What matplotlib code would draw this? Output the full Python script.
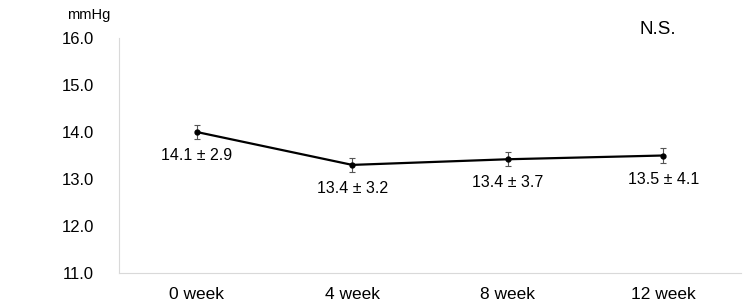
import matplotlib
matplotlib.use("Agg")
import matplotlib.pyplot as plt

plt.rcParams['font.family'] = ['Liberation Sans', 'DejaVu Sans']

categories = ["0 week", "4 week", "8 week", "12 week"]
means = [14.0, 13.3, 13.42, 13.5]
errors = [0.15, 0.15, 0.15, 0.15]
labels = ["14.1 ± 2.9", "13.4 ± 3.2", "13.4 ± 3.7", "13.5 ± 4.1"]
yticks = [11.0, 12.0, 13.0, 14.0, 15.0, 16.0]

fig = plt.figure(figsize=(7.5, 3.07), dpi=100)
ax = fig.add_axes([119/750, 1-273/307, (741-119)/750, (273-38)/307])

x = list(range(len(categories)))
ax.errorbar(x, means, yerr=errors, fmt='none', ecolor='#555555', elinewidth=0.8,
            capsize=2.5, capthick=0.8, zorder=2)
ax.plot(x, means, color='black', lw=1.6, marker='o', markersize=3.5, zorder=3)

for xi, yi, lab in zip(x, means, labels):
    ax.annotate(lab, (xi, yi), xytext=(0, -17), textcoords='offset points',
                ha='center', va='center', fontsize=11.5)

ax.set_xlim(-0.5, 3.5)
ax.set_ylim(11, 16)
ax.set_yticks(yticks)
ax.set_yticklabels([f"{v:.1f}" for v in yticks], fontsize=12)
ax.set_xticks(x)
ax.set_xticklabels(categories, fontsize=12.5)
ax.tick_params(axis='y', length=0, pad=18)
ax.tick_params(axis='x', length=0, pad=10)
for s in ['top', 'right']:
    ax.spines[s].set_visible(False)
ax.spines['left'].set_color('#d9d9d9')
ax.spines['bottom'].set_color('#d9d9d9')

fig.text(89/750, 1-15/307, "mmHg", ha='center', va='center', fontsize=10.5)
fig.text(658/750, 1-30/307, "N.S.", ha='center', va='center', fontsize=13.5)

fig.savefig("out.png", dpi=100)
